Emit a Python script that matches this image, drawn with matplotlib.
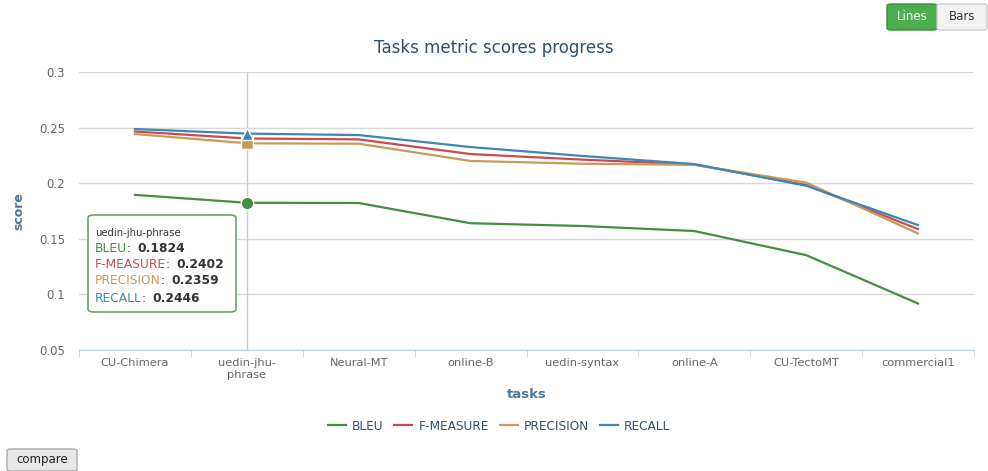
import numpy as np
import matplotlib.pyplot as plt
from matplotlib.patches import FancyBboxPatch

tasks = ['CU-Chimera', 'uedin-jhu-\nphrase', 'Neural-MT', 'online-B',
         'uedin-syntax', 'online-A', 'CU-TectoMT', 'commercial1']
bleu = [0.1895, 0.1824, 0.1822, 0.1640, 0.1615, 0.1570, 0.1353, 0.0918]
fmeasure = [0.2465, 0.2402, 0.2394, 0.2262, 0.2212, 0.2168, 0.1985, 0.1587]
precision = [0.2442, 0.2359, 0.2355, 0.2200, 0.2175, 0.2165, 0.2005, 0.1548]
recall = [0.2487, 0.2446, 0.2433, 0.2325, 0.2245, 0.2172, 0.1977, 0.1623]

names = ['BLEU', 'F-MEASURE', 'PRECISION', 'RECALL']
colors = ['#438f43', '#c94a50', '#c99a58', '#3d87b4']
series = [bleu, fmeasure, precision, recall]
markers = ['o', 'D', 's', '^']
hover = 1

plt.rcParams['font.family'] = ['DejaVu Sans']
fig = plt.figure(figsize=(9.88, 4.71), dpi=100)
W, H = 988, 471
ax = fig.add_axes([79 / W, 1 - 350 / H, (974 - 79) / W, (350 - 72) / H])

x = np.arange(len(tasks))
for s, name, c, m in zip(series, names, colors, markers):
    ax.plot(x, s, color=c, lw=1.6, label=name, zorder=3)
    if name != 'F-MEASURE':
        ax.plot(x[hover], s[hover], marker=m, ms=9, color=c, mec='white',
                mew=1, zorder=4, ls='none')

ax.set_xlim(-0.5, len(tasks) - 0.5)
ax.set_ylim(0.05, 0.3)
ax.set_yticks([0.05, 0.1, 0.15, 0.2, 0.25, 0.3])
ax.set_yticklabels(['0.05', '0.1', '0.15', '0.2', '0.25', '0.3'])
ax.set_xticks(x)
ax.set_xticklabels(tasks)
ax.set_xticks(np.arange(-0.5, len(tasks)), minor=True)
ax.tick_params(axis='x', which='major', length=0, pad=6, labelsize=8.2, colors='#666666')
ax.tick_params(axis='x', which='minor', length=5, color='#c0d0e0')
ax.tick_params(axis='y', length=0, labelsize=8.5, colors='#666666', pad=10)
ax.grid(axis='y', color='#d8d8d8', lw=1)
for sp in ['top', 'right', 'left']:
    ax.spines[sp].set_visible(False)
ax.spines['bottom'].set_color('#c0d0e0')
ax.axvline(x[hover], color='#cccccc', lw=1, zorder=2)

ax.set_ylabel('score', fontsize=9, fontweight='bold', color='#4d759e', labelpad=10)
ax.set_xlabel('tasks', fontsize=9.5, fontweight='bold', color='#4d759e', labelpad=6)
fig.text(0.5, 1 - 48 / H, 'Tasks metric scores progress', ha='center', va='center',
         fontsize=12, color='#2f4f6f')

leg = fig.legend(loc='center', bbox_to_anchor=(0.505, 1 - 426 / H), ncol=4,
                 frameon=False, fontsize=8.7, handlelength=1.5, columnspacing=0.9,
                 handletextpad=0.5)
for t in leg.get_texts():
    t.set_color('#2f4f6f')

# tooltip
tip = FancyBboxPatch((88 / W, 1 - 312 / H), (236 - 88) / W, (312 - 215) / H,
                     boxstyle='round,pad=0,rounding_size=0.006', transform=fig.transFigure,
                     facecolor='white', edgecolor='#6aa36a', lw=1.2, zorder=10)
fig.patches.append(tip)
fig.text(95 / W, 1 - 233 / H, 'uedin-jhu-phrase', fontsize=7.3, color='#333333',
         va='center', zorder=11)
ty = [248, 265, 281, 298]
for s, name, c, yy in zip(series, names, colors, ty):
    t1 = fig.text(95 / W, 1 - yy / H, name, fontsize=8.8, color=c, va='center', zorder=11)
    fig.canvas.draw()
    bb = t1.get_window_extent()
    fig.text(bb.x1 / W, 1 - yy / H, ': ', fontsize=8.8, color='#333333', va='center', zorder=11)
    fig.text(bb.x1 / W + 10 / W, 1 - yy / H, '%.4f' % s[hover], fontsize=8.8,
             fontweight='bold', color='#333333', va='center', zorder=11)

# buttons
def button(x0, y0, w, h, label, fc, ec, tc):
    b = FancyBboxPatch((x0 / W, 1 - (y0 + h) / H), w / W, h / H,
                       boxstyle='round,pad=0,rounding_size=0.004', transform=fig.transFigure,
                       facecolor=fc, edgecolor=ec, lw=1)
    fig.patches.append(b)
    fig.text((x0 + w / 2) / W, 1 - (y0 + h / 2) / H, label, ha='center', va='center',
             fontsize=8.5, color=tc)

button(887, 4, 50, 26, 'Lines', '#4cae4c', '#3d8b3d', 'white')
button(937, 4, 50, 26, 'Bars', '#f2f2f2', '#cccccc', '#333333')
button(7, 449, 70, 22, 'compare', '#e8e8e8', '#aaaaaa', '#222222')

fig.savefig('out.png', dpi=100)
